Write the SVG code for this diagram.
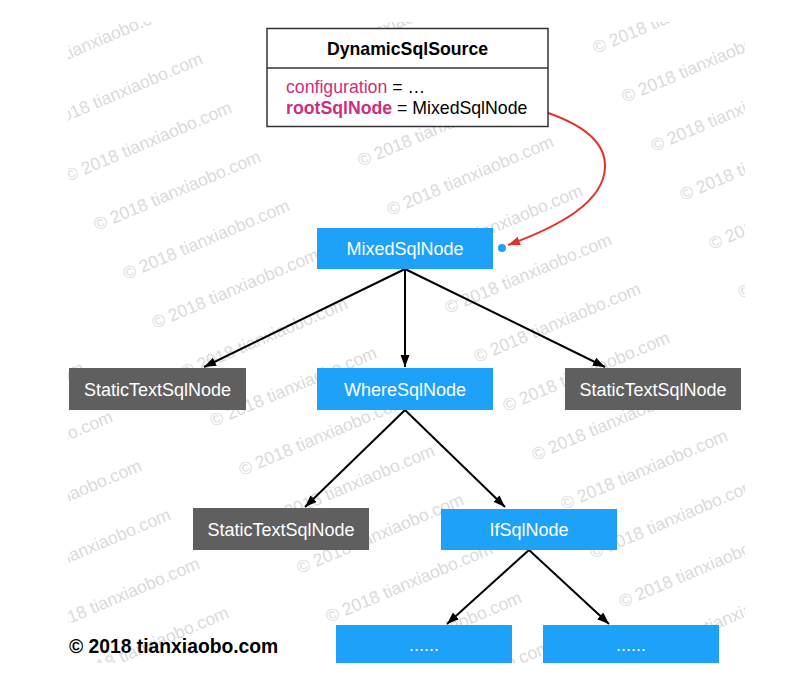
<svg xmlns="http://www.w3.org/2000/svg" width="812" height="681" viewBox="0 0 812 681">
<style>
.wm{font-family:"Liberation Sans",Arial,sans-serif;font-size:17.5px;fill:#dadada}
.nt{font-family:"Liberation Sans",Arial,sans-serif;font-size:18px;fill:#fff;text-anchor:middle}
.blue{fill:#1ea2f9}
.gray{fill:#5f5f5f}
.edge{stroke:#000;stroke-width:2;fill:none;marker-end:url(#ah)}
.bt{font-family:"Liberation Sans",Arial,sans-serif;font-size:17.7px}
</style>
<defs>
<clipPath id="wmclip"><rect x="68" y="22" width="677" height="641"/></clipPath>
<marker id="ah" markerUnits="userSpaceOnUse" markerWidth="14" markerHeight="10" refX="12" refY="4.5" orient="auto"><path d="M0,0 L12,4.5 L0,9 z" fill="#000"/></marker>
<marker id="rah" markerUnits="userSpaceOnUse" markerWidth="14" markerHeight="10" refX="12" refY="4.5" orient="auto"><path d="M0,0 L12,4.5 L0,9 z" fill="#e8302a"/></marker>
</defs>
<rect width="812" height="681" fill="#fff"/>
<g id="watermarks" clip-path="url(#wmclip)">
<text class="wm" transform="translate(-80,442) rotate(-23)">© 2018 tianxiaobo.com</text>
<text class="wm" transform="translate(-51,491) rotate(-23)">© 2018 tianxiaobo.com</text>
<text class="wm" transform="translate(-22,540) rotate(-23)">© 2018 tianxiaobo.com</text>
<text class="wm" transform="translate(7,589) rotate(-23)">© 2018 tianxiaobo.com</text>
<text class="wm" transform="translate(36,638) rotate(-23)">© 2018 tianxiaobo.com</text>
<text class="wm" transform="translate(65,687) rotate(-23)">© 2018 tianxiaobo.com</text>
<text class="wm" transform="translate(10,84) rotate(-23)">© 2018 tianxiaobo.com</text>
<text class="wm" transform="translate(39,133) rotate(-23)">© 2018 tianxiaobo.com</text>
<text class="wm" transform="translate(68,182) rotate(-23)">© 2018 tianxiaobo.com</text>
<text class="wm" transform="translate(97,231) rotate(-23)">© 2018 tianxiaobo.com</text>
<text class="wm" transform="translate(126,280) rotate(-23)">© 2018 tianxiaobo.com</text>
<text class="wm" transform="translate(155,329) rotate(-23)">© 2018 tianxiaobo.com</text>
<text class="wm" transform="translate(184,378) rotate(-23)">© 2018 tianxiaobo.com</text>
<text class="wm" transform="translate(213,427) rotate(-23)">© 2018 tianxiaobo.com</text>
<text class="wm" transform="translate(242,476) rotate(-23)">© 2018 tianxiaobo.com</text>
<text class="wm" transform="translate(271,525) rotate(-23)">© 2018 tianxiaobo.com</text>
<text class="wm" transform="translate(300,574) rotate(-23)">© 2018 tianxiaobo.com</text>
<text class="wm" transform="translate(329,623) rotate(-23)">© 2018 tianxiaobo.com</text>
<text class="wm" transform="translate(358,672) rotate(-23)">© 2018 tianxiaobo.com</text>
<text class="wm" transform="translate(387,721) rotate(-23)">© 2018 tianxiaobo.com</text>
<text class="wm" transform="translate(274,20) rotate(-23)">© 2018 tianxiaobo.com</text>
<text class="wm" transform="translate(303,69) rotate(-23)">© 2018 tianxiaobo.com</text>
<text class="wm" transform="translate(332,118) rotate(-23)">© 2018 tianxiaobo.com</text>
<text class="wm" transform="translate(361,167) rotate(-23)">© 2018 tianxiaobo.com</text>
<text class="wm" transform="translate(390,216) rotate(-23)">© 2018 tianxiaobo.com</text>
<text class="wm" transform="translate(419,265) rotate(-23)">© 2018 tianxiaobo.com</text>
<text class="wm" transform="translate(448,314) rotate(-23)">© 2018 tianxiaobo.com</text>
<text class="wm" transform="translate(477,363) rotate(-23)">© 2018 tianxiaobo.com</text>
<text class="wm" transform="translate(506,412) rotate(-23)">© 2018 tianxiaobo.com</text>
<text class="wm" transform="translate(535,461) rotate(-23)">© 2018 tianxiaobo.com</text>
<text class="wm" transform="translate(564,510) rotate(-23)">© 2018 tianxiaobo.com</text>
<text class="wm" transform="translate(593,559) rotate(-23)">© 2018 tianxiaobo.com</text>
<text class="wm" transform="translate(622,608) rotate(-23)">© 2018 tianxiaobo.com</text>
<text class="wm" transform="translate(651,657) rotate(-23)">© 2018 tianxiaobo.com</text>
<text class="wm" transform="translate(680,706) rotate(-23)">© 2018 tianxiaobo.com</text>
<text class="wm" transform="translate(596,54) rotate(-23)">© 2018 tianxiaobo.com</text>
<text class="wm" transform="translate(625,103) rotate(-23)">© 2018 tianxiaobo.com</text>
<text class="wm" transform="translate(654,152) rotate(-23)">© 2018 tianxiaobo.com</text>
<text class="wm" transform="translate(683,201) rotate(-23)">© 2018 tianxiaobo.com</text>
<text class="wm" transform="translate(712,250) rotate(-23)">© 2018 tianxiaobo.com</text>
<text class="wm" transform="translate(741,299) rotate(-23)">© 2018 tianxiaobo.com</text>
</g>
<g id="connectors">
<line class="edge" x1="405" y1="269" x2="204" y2="367"/>
<line class="edge" x1="405" y1="269" x2="405" y2="367"/>
<line class="edge" x1="405" y1="269" x2="605" y2="367"/>
<line class="edge" x1="405" y1="410" x2="305" y2="507"/>
<line class="edge" x1="405" y1="410" x2="505" y2="507"/>
<line class="edge" x1="529" y1="550" x2="447" y2="624"/>
<line class="edge" x1="529" y1="550" x2="609" y2="624"/>
<path d="M539,110 C578,122 606,140 605,167 C604,202 560,226 508,245" stroke="#e8302a" stroke-width="2" fill="none" marker-end="url(#rah)"/>
<circle cx="539" cy="110" r="4" fill="#e8302a"/>
<circle cx="502" cy="248" r="4" fill="#1ea2f9"/>
</g>
<g id="DynamicSqlSource">
<rect x="267" y="28.5" width="281" height="98" fill="#fff" stroke="#333" stroke-width="1.5"/>
<line x1="267" y1="68" x2="548" y2="68" stroke="#333" stroke-width="1.5"/>
<text class="bt" x="407.5" y="55" text-anchor="middle" font-weight="bold" fill="#000">DynamicSqlSource</text>
<text class="bt" x="286" y="93" fill="#000"><tspan fill="#cb2f7f">configuration</tspan> = …</text>
<text class="bt" x="286" y="114" fill="#000"><tspan fill="#cb2f7f" font-weight="bold">rootSqlNode</tspan> = MixedSqlNode</text>
</g>
<g id="MixedSqlNode"><rect class="blue" x="317" y="228" width="176" height="41"/><text class="nt" x="405" y="255">MixedSqlNode</text></g>
<g id="StaticTextSqlNode1"><rect class="gray" x="69" y="368" width="177" height="42"/><text class="nt" x="157.5" y="395.5">StaticTextSqlNode</text></g>
<g id="WhereSqlNode"><rect class="blue" x="317" y="368" width="176" height="42"/><text class="nt" x="405" y="395.5">WhereSqlNode</text></g>
<g id="StaticTextSqlNode2"><rect class="gray" x="565" y="368" width="176" height="42"/><text class="nt" x="653" y="395.5">StaticTextSqlNode</text></g>
<g id="StaticTextSqlNode3"><rect class="gray" x="193" y="508" width="176" height="42"/><text class="nt" x="281" y="535.5">StaticTextSqlNode</text></g>
<g id="IfSqlNode"><rect class="blue" x="441" y="509" width="176" height="41"/><text class="nt" x="529" y="535.5">IfSqlNode</text></g>
<g id="Etc1"><rect class="blue" x="336" y="625" width="176" height="38"/><text class="nt" x="424" y="651">......</text></g>
<g id="Etc2"><rect class="blue" x="543" y="625" width="176" height="38"/><text class="nt" x="631" y="651">......</text></g>
<text id="copyright" x="69" y="653" font-family="'Liberation Sans',Arial,sans-serif" font-size="19.3" font-weight="bold" fill="#000">© 2018 tianxiaobo.com</text>
</svg>
